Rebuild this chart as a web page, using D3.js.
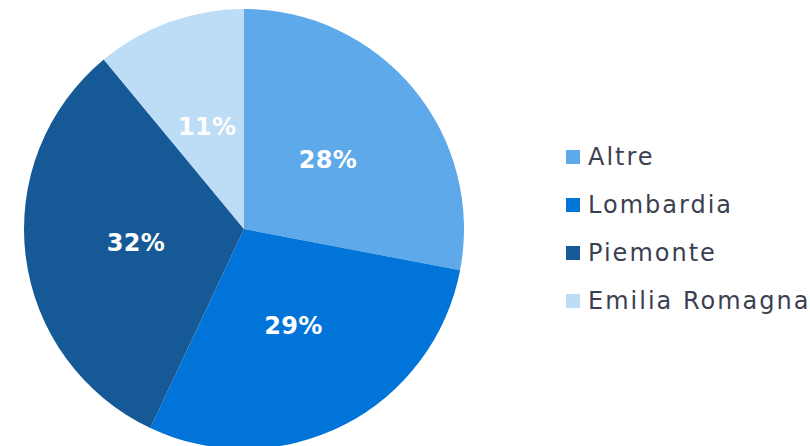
<!DOCTYPE html>
<html>
<head>
<meta charset="utf-8">
<script src="https://cdn.jsdelivr.net/npm/d3@7"></script>
<style>
  html, body { margin: 0; padding: 0; background: #ffffff; }
  svg { display: block; }
</style>
</head>
<body>
<svg id="chart" width="810" height="446"></svg>
<script>
// Regional share data
const categories = ["Altre", "Lombardia", "Piemonte", "Emilia Romagna"];
const values = [28, 29, 32, 11];
const colors = ["#5DA9E9", "#0074D9", "#155A96", "#BDDCF5"];

const width = 810, height = 446;
const cx = 244, cy = 229, radius = 220;
const fontFamily = "'DejaVu Sans', 'Noto Sans', sans-serif";

const svg = d3.select("#chart");

const data = categories.map((c, i) => ({ name: c, value: values[i], color: colors[i] }));

const pie = d3.pie().sort(null).value(d => d.value);
const arc = d3.arc().innerRadius(0).outerRadius(radius);
const labelArc = d3.arc().innerRadius(radius * 0.495).outerRadius(radius * 0.495);

const g = svg.append("g").attr("transform", `translate(${cx},${cy})`);
const arcs = pie(data);

g.selectAll("path.slice")
  .data(arcs)
  .join("path")
  .attr("class", "slice")
  .attr("d", arc)
  .attr("fill", d => d.data.color);

const total = d3.sum(values);
g.selectAll("text.pct")
  .data(arcs)
  .join("text")
  .attr("class", "pct")
  .attr("transform", d => `translate(${labelArc.centroid(d)})`)
  .attr("text-anchor", "middle")
  .attr("dominant-baseline", "central")
  .attr("fill", "#ffffff")
  .attr("font-family", fontFamily)
  .attr("font-weight", 700)
  .attr("font-size", 24)
  .attr("letter-spacing", 0.3)
  .text(d => Math.round(d.data.value / total * 100) + "%");

// Legend
const legendX = 566, legendY0 = 157, legendStep = 48;
const legend = svg.append("g");
const items = legend.selectAll("g.item")
  .data(data)
  .join("g")
  .attr("class", "item")
  .attr("transform", (d, i) => `translate(${legendX},${legendY0 + i * legendStep})`);

items.append("rect")
  .attr("x", 0).attr("y", -7)
  .attr("width", 14).attr("height", 14)
  .attr("fill", d => d.color);

items.append("text")
  .attr("x", 22)
  .attr("y", 0)
  .attr("dominant-baseline", "central")
  .attr("fill", "#3b3f52")
  .attr("font-family", fontFamily)
  .attr("font-size", 24)
  .attr("letter-spacing", 2.0)
  .text(d => d.name);
</script>
</body>
</html>
